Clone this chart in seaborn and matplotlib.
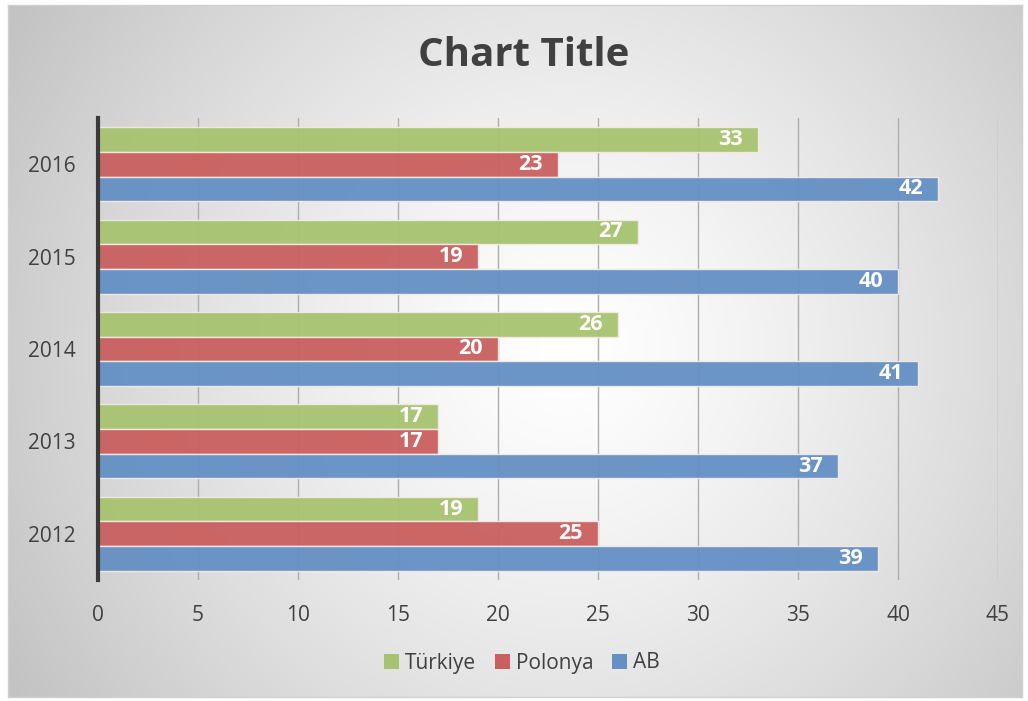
import numpy as np
import pandas as pd
import matplotlib
matplotlib.use("Agg")
import matplotlib.pyplot as plt
import seaborn as sns
from matplotlib.patches import Patch

years = ["2016", "2015", "2014", "2013", "2012"]
series = ["Türkiye", "Polonya", "AB"]
turkiye = [33, 27, 26, 17, 19]
polonya = [23, 19, 20, 17, 25]
ab = [42, 40, 41, 37, 39]
x_ticks = [0, 5, 10, 15, 20, 25, 30, 35, 40, 45]
title = "Chart Title"

colors = {"Türkiye": "#A6C36F", "Polonya": "#C95F5E", "AB": "#6490C4"}

rows = []
for name, vals in zip(series, [turkiye, polonya, ab]):
    for y, v in zip(years, vals):
        rows.append({"Yıl": y, "Ülke": name, "Değer": v})
df = pd.DataFrame(rows)

sns.set_theme(style="white")
plt.rcParams["font.family"] = ["Open Sans", "DejaVu Sans"]

W, H = 1028, 701
fig = plt.figure(figsize=(W / 100, H / 100), dpi=100)
fig.patch.set_facecolor("white")

# gradient background of chart area
bx0, by0, bx1, by1 = 8, 5, 1022, 697
bg = fig.add_axes([bx0 / W, 1 - by1 / H, (bx1 - bx0) / W, (by1 - by0) / H], zorder=-10)
nx, ny = 400, 280
gx, gy = np.meshgrid(np.linspace(0, 1, nx), np.linspace(0, 1, ny))
cx, cy = 0.55, 0.5
d = np.sqrt(((gx - cx) * 1.0) ** 2 + ((gy - cy) * 0.68) ** 2)
d = d / d.max()
val = 1.0 - 0.24 * np.clip(d, 0, 1) ** 1.3
img = np.dstack([val, val, val])
bg.imshow(img, aspect="auto", extent=[0, 1, 0, 1], interpolation="bilinear")
bg.set_xticks([]); bg.set_yticks([])
for s in bg.spines.values():
    s.set_color("#D0D0D0"); s.set_linewidth(1)

# main plot
px0, py0, px1, py1 = 98, 118, 998, 580
ax = fig.add_axes([px0 / W, 1 - py1 / H, (px1 - px0) / W, (py1 - py0) / H])
ax.patch.set_alpha(0)

sns.barplot(data=df, y="Yıl", x="Değer", hue="Ülke", order=years, hue_order=series,
            palette=colors, orient="h", width=0.8, edgecolor="#F2EAE6", linewidth=1.0,
            saturation=1, alpha=0.95, ax=ax, legend=False, zorder=3)

ax.set_xlim(0, 45)
ax.set_ylim(4.5, -0.5)
ax.set_xticks(x_ticks)
ax.set_xticklabels([str(t) for t in x_ticks])
ax.xaxis.grid(True, color="#ADADAD", linewidth=1.0, zorder=0)
ax.set_axisbelow(True)
ax.set_xlabel("")
ax.set_ylabel("")
for s in ["top", "right", "bottom"]:
    ax.spines[s].set_visible(False)
ax.spines["left"].set_color("#3A3A3A")
ax.spines["left"].set_linewidth(3)
ax.spines["left"].set_zorder(10)
ax.tick_params(axis="x", length=0, pad=18, labelsize=15, labelcolor="#404040")
ax.tick_params(axis="y", length=0, pad=16, labelsize=15, labelcolor="#404040")

for cont in ax.containers:
    for p in cont:
        w = p.get_width()
        yc = p.get_y() + p.get_height() / 2
        ax.text(w - 0.75, yc, f"{int(round(w))}", ha="right", va="center",
                color="white", fontsize=15.5, fontweight="bold", zorder=5)

fig.text(524 / W, 1 - 55 / H, title, ha="center", va="center", fontsize=29,
         fontweight="bold", color="#404040")

handles = [Patch(facecolor=colors[s], edgecolor="none", label=s) for s in series]
fig.legend(handles=handles, loc="center", bbox_to_anchor=(522 / W, 1 - 663 / H),
           ncol=3, frameon=False, fontsize=15, handlelength=0.7, handleheight=0.7,
           handletextpad=0.3, columnspacing=0.9, labelcolor="#404040")

fig.savefig("out.png", dpi=100)
